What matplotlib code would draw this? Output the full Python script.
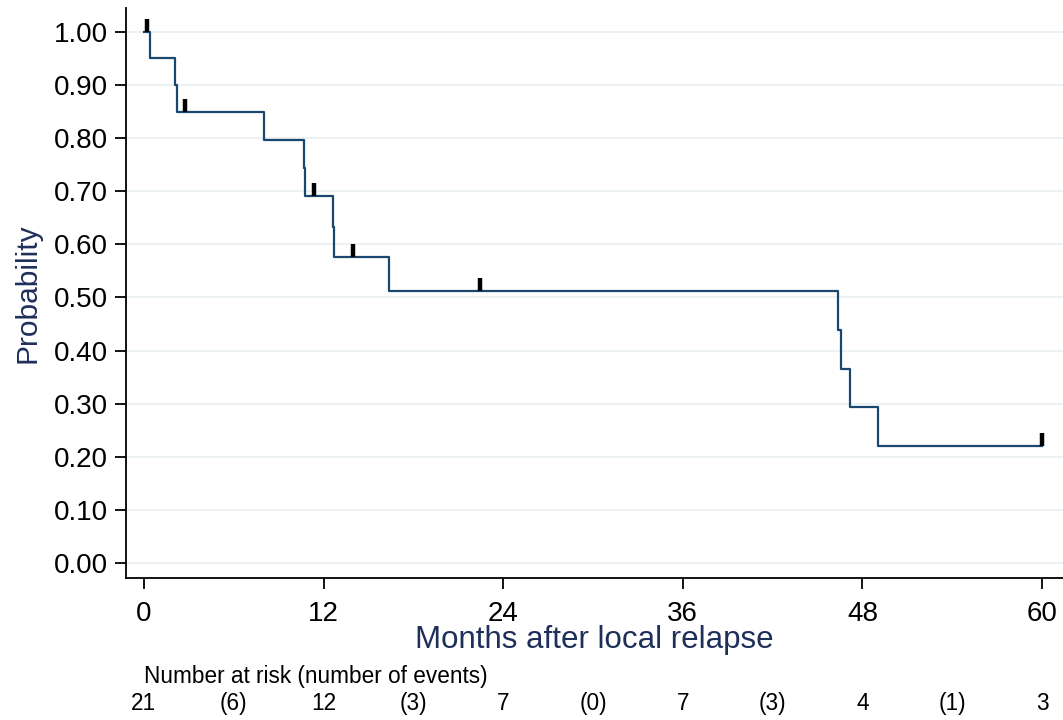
import matplotlib
matplotlib.use("Agg")
import matplotlib.pyplot as plt
import matplotlib.transforms as mtransforms
import numpy as np

plt.rcParams['font.family'] = ['Liberation Sans', 'DejaVu Sans']

# Kaplan-Meier steps: time of each drop and survival after it
step_times = [0.0, 0.40, 2.09, 2.22, 8.02, 10.67, 10.78, 12.60, 12.71, 16.35,
              46.38, 46.56, 47.18, 49.01, 60.0]
step_surv = [1.000, 0.950, 0.900, 0.850, 0.797, 0.744, 0.691, 0.633, 0.576, 0.512,
             0.439, 0.366, 0.293, 0.220, 0.220]

# censored observations
cens_times = [0.22, 2.74, 11.34, 13.98, 22.44, 60.0]
cens_surv = [1.000, 0.850, 0.691, 0.576, 0.512, 0.220]

# number at risk table
risk_times = [0, 12, 24, 36, 48, 60]
n_at_risk = [21, 12, 7, 7, 4, 3]
event_times = [6, 18, 30, 42, 54]
n_events = [6, 3, 0, 3, 1]

navy = '#1a476f'
title_col = '#1e2f5a'

fig = plt.figure(figsize=(10.63, 7.2), dpi=100)
ax = fig.add_axes([0.1185, 0.1976, 0.8815, 0.7914])

ax.step(step_times, step_surv, where='post', color=navy, lw=1.6, zorder=3)
ax.vlines(cens_times, cens_surv, np.array(cens_surv) + 0.024, color='black', lw=3.2, zorder=4)

ax.set_xlim(-1.2, 61.4)
ax.set_ylim(-0.0277, 1.0452)
ax.set_yticks(np.arange(0, 1.01, 0.1))
ax.set_yticklabels(['%.2f' % v for v in np.arange(0, 1.01, 0.1)])
ax.set_xticks(risk_times)
ax.grid(axis='y', color='#eaf1f3', lw=1.3, zorder=0)
ax.set_axisbelow(True)

for s in ['top', 'right']:
    ax.spines[s].set_visible(False)
for s in ['left', 'bottom']:
    ax.spines[s].set_linewidth(1.3)
ax.tick_params(axis='both', labelsize=20, length=8, width=1.3, color='black')
ax.tick_params(axis='x', pad=9)
ax.tick_params(axis='y', pad=5)

ax.set_ylabel('Probability', fontsize=21.5, color=title_col, va='center')
ax.set_xlabel('Months after local relapse', fontsize=22.5, color=title_col, va='center')
ax.yaxis.set_label_coords(-0.1046, 0.5)
ax.xaxis.set_label_coords(0.5, -0.1093)

# risk table below the axis
tr = mtransforms.blended_transform_factory(ax.transData, fig.transFigure)
fig.text(0, 0.0611, 'Number at risk (number of events)', transform=tr,
         fontsize=16.3, ha='left', va='center')
for t, n in zip(risk_times, n_at_risk):
    fig.text(t, 0.0236, str(n), transform=tr, fontsize=16.3, ha='center', va='center')
for t, e in zip(event_times, n_events):
    fig.text(t, 0.0236, '(%d)' % e, transform=tr, fontsize=16.3, ha='center', va='center')

fig.savefig('out.png', dpi=100)
